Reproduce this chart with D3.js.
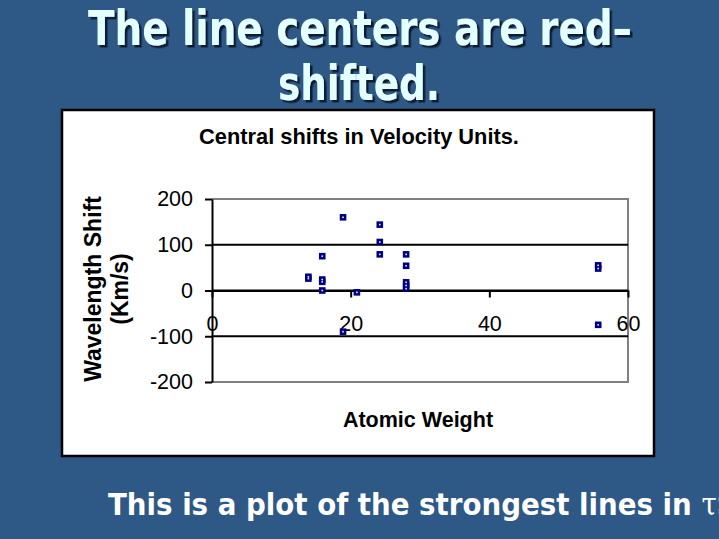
<!DOCTYPE html>
<html><head><meta charset="utf-8">
<script src="https://cdn.jsdelivr.net/npm/d3@7"></script>
<style>html,body{margin:0;padding:0;background:#2E5886;overflow:hidden}</style>
</head><body>
<svg id="c" width="719" height="539"></svg>
<script>
// Data
const titleLines = ["The line centers are red–", "shifted."];
const chartTitle = "Central shifts in Velocity Units.";
const xTitle = "Atomic Weight";
const yTitleLines = ["Wavelength Shift", "(Km/s)"];
const footText = "This is a plot of the strongest lines in ";
const footGreek = "τS";
const xTicks = [0, 20, 40, 60];
const yTicks = [-200, -100, 0, 100, 200];
const gridValues = [-100, 0, 100];
const atomicWeight = [13.9, 13.9, 15.9, 15.9, 15.9, 15.9, 18.9, 18.9, 20.9, 24.2, 24.2, 24.2, 28.0, 28.0, 28.0, 28.0, 28.0, 55.7, 55.7, 55.7];
const velocityShift = [30, 26, 75, 24, 19, 0, 160, -90, -4, 144, 106, 79, 79, 54, 18, 11, 4, 55, 48, -75];

(function () {
const svg = d3.select("#c");
const W = 719, H = 539;
svg.append("rect").attr("width", W).attr("height", H).attr("fill", "#2E5886");

const defs = svg.append("defs");
const f = defs.append("filter").attr("id", "shadow").attr("x", "-5%").attr("y", "-20%").attr("width", "115%").attr("height", "150%");
f.append("feDropShadow").attr("dx", 2.5).attr("dy", 2.5).attr("stdDeviation", 0.4)
  .attr("flood-color", "#101c33").attr("flood-opacity", 1);

// Slide title
const tFont = "'DejaVu Sans Condensed','DejaVu Sans',sans-serif";
const titleSpec = [{x0: 88, x1: 632, y: 45}, {x0: 278, x1: 440, y: 100}];
titleLines.forEach((t, i) => {
  const s = titleSpec[i];
  svg.append("text").text(t)
    .attr("x", s.x0).attr("y", s.y)
    .attr("font-family", tFont).attr("font-weight", "bold")
    .attr("font-stretch", "condensed")
    .attr("font-size", 48).attr("fill", "#E4FFFF")
    .attr("filter", "url(#shadow)")
    .attr("textLength", s.x1 - s.x0).attr("lengthAdjust", "spacingAndGlyphs");
});

// Chart area
svg.append("rect").attr("x", 62).attr("y", 110).attr("width", 592).attr("height", 346)
  .attr("fill", "#fff").attr("stroke", "#000").attr("stroke-width", 2.5);

const pLeft = 212, pRight = 628, pTop = 199, pBottom = 382;
const x = d3.scaleLinear().domain([0, 60]).range([pLeft, pRight]);
const y = d3.scaleLinear().domain([-200, 200]).range([pBottom, pTop]);
const font = "'Liberation Sans', Arial, sans-serif";

// plot border (gray)
const g = svg.append("g");
g.append("path")
  .attr("d", `M${x(0)},${y(200)}H${x(60)}V${y(-200)}H${x(0)}`)
  .attr("fill", "none").attr("stroke", "#808080").attr("stroke-width", 2);

// gridlines
g.selectAll("line.grid").data(gridValues).join("line").attr("class", "grid")
  .attr("x1", x(0)).attr("x2", x(60)).attr("y1", d => y(d)).attr("y2", d => y(d))
  .attr("stroke", "#000").attr("stroke-width", 2);

// y axis
const ya = svg.append("g").attr("transform", `translate(${x(0)},0)`)
  .call(d3.axisLeft(y).tickValues(yTicks).tickSize(7).tickSizeOuter(0).tickFormat(d3.format("d")));
ya.select(".domain").attr("stroke", "#000").attr("stroke-width", 2);
ya.selectAll(".tick line").attr("stroke", "#000").attr("stroke-width", 2);
ya.selectAll(".tick text").attr("x", -19).attr("font-family", font).attr("font-size", 21.5).attr("fill", "#000")
  .text(d => d < 0 ? "-" + Math.abs(d) : d);

// x axis at y=0
const xa = svg.append("g").attr("transform", `translate(0,${y(0)})`)
  .call(d3.axisBottom(x).tickValues(xTicks).tickSize(7).tickSizeOuter(0));
xa.select(".domain").attr("stroke", "#000").attr("stroke-width", 2);
xa.selectAll(".tick line").attr("stroke", "#000").attr("stroke-width", 2);
xa.selectAll(".tick text").attr("y", 25).attr("font-family", font).attr("font-size", 21.5).attr("fill", "#000");

// points
const pts = d3.zip(atomicWeight, velocityShift);
const pg = svg.append("g");
pg.selectAll("rect.m").data(pts).join("rect").attr("class", "m")
  .attr("x", d => x(d[0]) - 3.3).attr("y", d => y(d[1]) - 3.3)
  .attr("width", 6.6).attr("height", 6.6).attr("fill", "#000080");
pg.selectAll("rect.c").data(pts).join("rect").attr("class", "c")
  .attr("x", d => x(d[0]) - 0.8).attr("y", d => y(d[1]) - 0.8)
  .attr("width", 1.6).attr("height", 1.6).attr("fill", "#e6e8ff");

// chart texts
svg.append("text").text(chartTitle).attr("x", 359).attr("y", 144).attr("text-anchor", "middle")
  .attr("font-family", font).attr("font-weight", "bold").attr("font-size", 21.8).attr("fill", "#000");
svg.append("text").text(xTitle).attr("x", 418).attr("y", 427).attr("text-anchor", "middle")
  .attr("font-family", font).attr("font-weight", "bold").attr("font-size", 21.5).attr("fill", "#000");
[[101, yTitleLines[0]], [128, yTitleLines[1]]].forEach(([bx, t]) => {
  svg.append("text").text(t).attr("transform", `translate(${bx},289) rotate(-90)`)
    .attr("text-anchor", "middle").attr("font-family", font).attr("font-weight", "bold")
    .attr("font-size", 23).attr("fill", "#000");
});

// footer (cut off at the right edge, as in the reference)
const ft = svg.append("text").attr("x", 108).attr("y", 515)
  .attr("font-family", tFont).attr("font-weight", "bold").attr("font-stretch", "condensed")
  .attr("font-size", 34).attr("fill", "#fff");
const main = ft.append("tspan").text(footText);
const len = main.node().getComputedTextLength();
const target = 584;
ft.attr("font-size", 34 * target / len);
ft.append("tspan").text(footGreek.charAt(0)).attr("font-family", "'DejaVu Serif',serif").attr("font-weight", "normal");
ft.append("tspan").text(footGreek.charAt(1));
})();
</script>
</body></html>
